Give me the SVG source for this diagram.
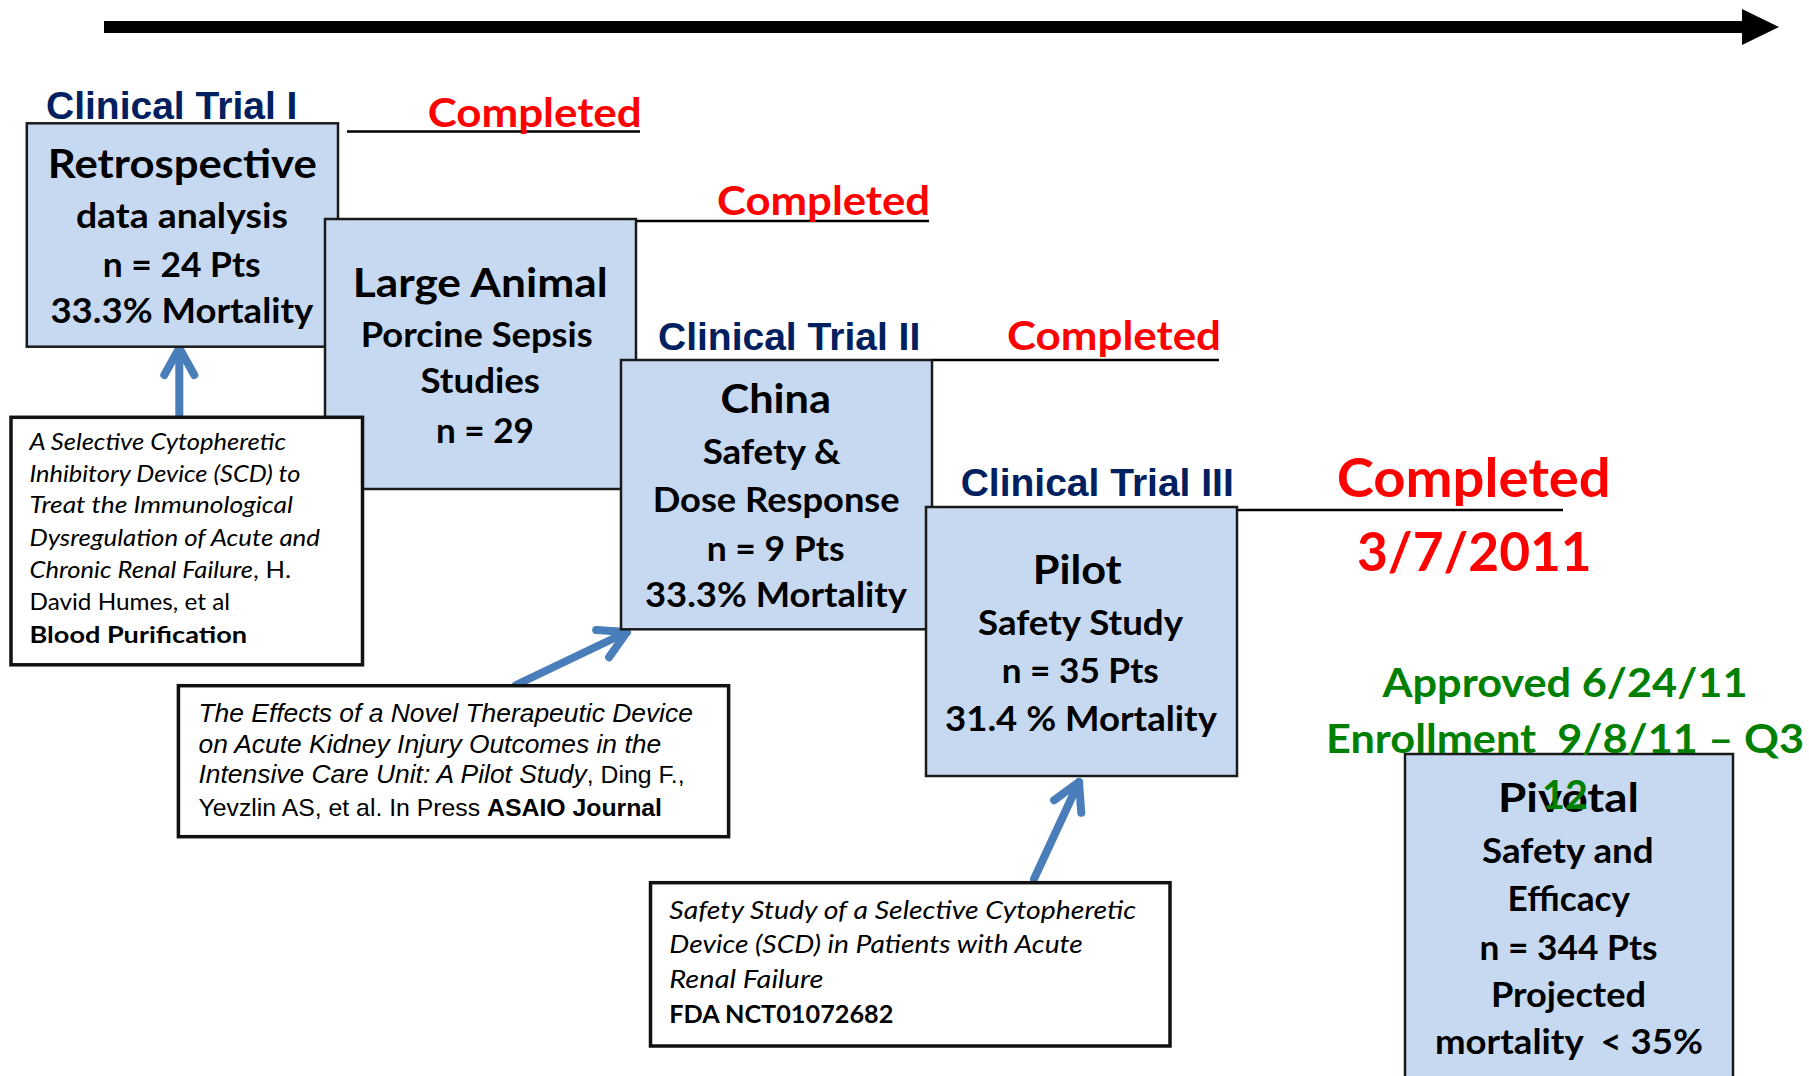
<svg xmlns="http://www.w3.org/2000/svg" width="1809" height="1076" viewBox="0 0 1809 1076">
<style>
  .box { fill: #C6D9F1; stroke: #1a1a1a; stroke-width: 2.5; }
  .ref { fill: #ffffff; stroke: #111111; stroke-width: 3.5; }
  .t { font-family: Lato, "Liberation Sans", sans-serif; font-weight: bold; fill: #000; }
  .title { font-size: 40px; }
  .sub { font-size: 34px; }
  .ct { font-family: "Liberation Sans", Arial, sans-serif; font-weight: bold; font-size: 39px; fill: #002060; }
  .done { font-family: Lato, "Liberation Sans", sans-serif; font-weight: bold; font-size: 41px; fill: #FF0000; }
  .big { font-size: 54px; }
  .green { font-family: Lato, "Liberation Sans", sans-serif; font-weight: bold; font-size: 41px; fill: #008000; }
  .cal { font-family: Lato, "Liberation Sans", sans-serif; fill: #000; }
  .ar { font-family: "Liberation Sans", Arial, sans-serif; fill: #000; }
  .it { font-style: italic; }
  .bd { font-weight: bold; }
  .rl { stroke: #000; stroke-width: 2.5; fill: none; }
  .blue { stroke: #4A7EBB; stroke-width: 8; stroke-linecap: round; fill: none; }
</style>
<defs>
  <marker id="chev" markerUnits="userSpaceOnUse" orient="auto" refX="0" refY="0" markerWidth="60" markerHeight="60" viewBox="-40 -30 60 60" overflow="visible">
    <path d="M -27 -15 L 0 0 L -27 15" fill="none" stroke="#4A7EBB" stroke-width="8" stroke-linecap="round" stroke-linejoin="round"/>
  </marker>
</defs>
<rect width="1809" height="1076" fill="#ffffff"/>

<g id="timeline">
  <rect x="104" y="21" width="1640" height="12" fill="#000"/>
  <polygon points="1742,9 1779,27 1742,45" fill="#000"/>
</g>

<g id="connectors">
  <line class="rl" x1="347" y1="131.5" x2="640" y2="131.5"/>
  <line class="rl" x1="636" y1="221" x2="929" y2="221"/>
  <line class="rl" x1="932" y1="360" x2="1219" y2="360"/>
  <line class="rl" x1="1237" y1="510" x2="1563" y2="510"/>
  <line class="blue" x1="179.3" y1="416" x2="179.3" y2="348" marker-end="url(#chev)"/>
  <line class="blue" x1="516" y1="685" x2="627" y2="632" marker-end="url(#chev)"/>
  <line class="blue" x1="1034" y1="879" x2="1079" y2="782" marker-end="url(#chev)"/>
</g>

<g id="label-ct1"><text class="ct" x="46" y="119.3">Clinical Trial I</text></g>
<g id="label-ct2"><text class="ct" x="658" y="350">Clinical Trial II</text></g>
<g id="label-ct3"><text class="ct" x="960.7" y="496">Clinical Trial III</text></g>

<g id="status-1"><text class="done" x="427.7" y="126.7" textLength="214" lengthAdjust="spacingAndGlyphs">Completed</text></g>
<g id="status-2"><text class="done" x="717" y="215" textLength="213" lengthAdjust="spacingAndGlyphs">Completed</text></g>
<g id="status-3"><text class="done" x="1007" y="350" textLength="214" lengthAdjust="spacingAndGlyphs">Completed</text></g>
<g id="status-4">
  <text class="done big" x="1336.7" y="496.7" textLength="274" lengthAdjust="spacingAndGlyphs">Completed</text>
  <text class="done big" x="1357" y="570.7" textLength="234.7" lengthAdjust="spacingAndGlyphs">3/7/2011</text>
</g>

<g id="node-retrospective">
  <rect class="box" x="26.8" y="123.3" width="311.2" height="223.4"/>
  <text class="t title" x="47.8" y="178.3" textLength="269" lengthAdjust="spacingAndGlyphs">Retrospective</text>
  <text class="t sub" x="75.9" y="228.3" textLength="212" lengthAdjust="spacingAndGlyphs">data analysis</text>
  <text class="t sub" x="102.7" y="276.7" textLength="158" lengthAdjust="spacingAndGlyphs">n = 24 Pts</text>
  <text class="t sub" x="50.4" y="323.3" textLength="263" lengthAdjust="spacingAndGlyphs">33.3% Mortality</text>
</g>

<g id="node-large-animal">
  <rect class="box" x="325" y="219" width="311" height="270"/>
  <text class="t title" x="352.7" y="296.7" textLength="255" lengthAdjust="spacingAndGlyphs">Large Animal</text>
  <text class="t sub" x="360.7" y="346.7" textLength="232" lengthAdjust="spacingAndGlyphs">Porcine Sepsis</text>
  <text class="t sub" x="420.5" y="393.3" textLength="119.5" lengthAdjust="spacingAndGlyphs">Studies</text>
  <text class="t sub" x="436" y="443.3" textLength="98" lengthAdjust="spacingAndGlyphs">n = 29</text>
</g>

<g id="node-china">
  <rect class="box" x="621" y="360" width="311" height="269.3"/>
  <text class="t title" x="720.5" y="413.3" textLength="110.5" lengthAdjust="spacingAndGlyphs">China</text>
  <text class="t sub" x="702.7" y="464" textLength="138" lengthAdjust="spacingAndGlyphs">Safety &amp;</text>
  <text class="t sub" x="652.7" y="511.7" textLength="247" lengthAdjust="spacingAndGlyphs">Dose Response</text>
  <text class="t sub" x="706.7" y="560.7" textLength="138" lengthAdjust="spacingAndGlyphs">n = 9 Pts</text>
  <text class="t sub" x="645" y="607.3" textLength="262" lengthAdjust="spacingAndGlyphs">33.3% Mortality</text>
</g>

<g id="node-pilot">
  <rect class="box" x="926" y="507" width="311" height="269"/>
  <text class="t title" x="1032.7" y="584" textLength="89" lengthAdjust="spacingAndGlyphs">Pilot</text>
  <text class="t sub" x="978" y="635" textLength="205" lengthAdjust="spacingAndGlyphs">Safety Study</text>
  <text class="t sub" x="1001.7" y="683.3" textLength="157" lengthAdjust="spacingAndGlyphs">n = 35 Pts</text>
  <text class="t sub" x="945" y="730.7" textLength="272" lengthAdjust="spacingAndGlyphs">31.4 % Mortality</text>
</g>

<g id="node-pivotal">
  <rect class="box" x="1405" y="754" width="328" height="340"/>
  <text class="t title" x="1498" y="811.6" textLength="141" lengthAdjust="spacingAndGlyphs">Pivotal</text>
  <text class="t sub" x="1482" y="863" textLength="171.6" lengthAdjust="spacingAndGlyphs">Safety and</text>
  <text class="t sub" x="1507.6" y="910.8" textLength="122.4" lengthAdjust="spacingAndGlyphs">Efficacy</text>
  <text class="t sub" x="1479.6" y="959.5" textLength="178" lengthAdjust="spacingAndGlyphs">n = 344 Pts</text>
  <text class="t sub" x="1491" y="1007" textLength="155" lengthAdjust="spacingAndGlyphs">Projected</text>
  <text class="t sub" x="1435" y="1054" textLength="268" lengthAdjust="spacingAndGlyphs" xml:space="preserve">mortality  &lt; 35%</text>
</g>

<g id="status-pivotal">
  <text class="green" x="1382.5" y="696.6" textLength="365" lengthAdjust="spacingAndGlyphs">Approved 6/24/11</text>
  <text class="green" x="1326" y="752.6" textLength="478" lengthAdjust="spacingAndGlyphs" xml:space="preserve">Enrollment  9/8/11 – Q3</text>
  <text class="green" x="1542" y="808.6" textLength="46" lengthAdjust="spacingAndGlyphs">12</text>
</g>

<g id="ref-humes">
  <rect class="ref" x="11" y="417.3" width="351.5" height="247.5"/>
  <text class="cal it" font-size="23" x="29.5" y="450" textLength="256.5" lengthAdjust="spacingAndGlyphs">A Selective Cytopheretic</text>
  <text class="cal it" font-size="23" x="29.5" y="481.7" textLength="271" lengthAdjust="spacingAndGlyphs">Inhibitory Device (SCD) to</text>
  <text class="cal it" font-size="23" x="29.5" y="513.3" textLength="263.5" lengthAdjust="spacingAndGlyphs">Treat the Immunological</text>
  <text class="cal it" font-size="23" x="29.5" y="546" textLength="290.5" lengthAdjust="spacingAndGlyphs">Dysregulation of Acute and</text>
  <text class="cal" font-size="23" x="29.5" y="577.7" textLength="261.5" lengthAdjust="spacingAndGlyphs"><tspan class="it">Chronic Renal Failure</tspan>, H.</text>
  <text class="cal" font-size="23" x="29.5" y="610" textLength="200.5" lengthAdjust="spacingAndGlyphs">David Humes, et al</text>
  <text class="cal bd" font-size="23" x="29.5" y="643.3" textLength="217.5" lengthAdjust="spacingAndGlyphs">Blood Purification</text>
</g>

<g id="ref-ding">
  <rect class="ref" x="178.4" y="685.7" width="550.2" height="151"/>
  <text class="ar it" font-size="26.4" x="198.5" y="721.7">The Effects of a Novel Therapeutic Device</text>
  <text class="ar it" font-size="26.4" x="198.5" y="752.7">on Acute Kidney Injury Outcomes in the</text>
  <text class="ar" font-size="24.8" x="198.5" y="783.3"><tspan class="it" font-size="26.4">Intensive Care Unit: A Pilot Study</tspan>, Ding F.,</text>
  <text class="ar" font-size="24.8" x="198.5" y="816">Yevzlin AS, et al. In Press <tspan class="bd">ASAIO Journal</tspan></text>
</g>

<g id="ref-fda">
  <rect class="ref" x="650.5" y="882.7" width="519.5" height="163.3"/>
  <text class="cal it" font-size="25.5" x="669.3" y="919" textLength="467" lengthAdjust="spacingAndGlyphs">Safety Study of a Selective Cytopheretic</text>
  <text class="cal it" font-size="25.5" x="669.3" y="953.3" textLength="413.5" lengthAdjust="spacingAndGlyphs">Device (SCD) in Patients with Acute</text>
  <text class="cal it" font-size="25.5" x="669.3" y="988.3" textLength="154" lengthAdjust="spacingAndGlyphs">Renal Failure</text>
  <text class="cal bd" font-size="25.5" x="669.3" y="1023.3" textLength="224" lengthAdjust="spacingAndGlyphs">FDA NCT01072682</text>
</g>
</svg>
